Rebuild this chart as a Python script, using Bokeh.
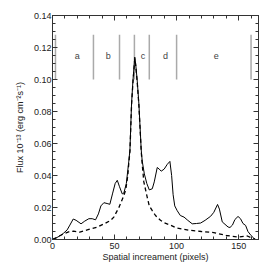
from bokeh.plotting import figure
from bokeh.models import LinearAxis, Range1d, FixedTicker, ColumnDataSource, NumeralTickFormatter
from bokeh.core.properties import value
from bokeh.embed import file_html
from bokeh.resources import INLINE

# observed flux (solid)
obs_x = [0.5, 3, 6.5, 9, 11.8, 14, 16.7, 19, 23, 26, 29.3, 32, 34.7, 37, 39, 41.4, 44, 46.2, 48.5, 50.5,
         52.2, 54, 56.2, 57.5, 59.5, 61.5, 62.4, 63.7, 64.8, 66.3, 67.0, 68.3, 69.6, 71.5, 72.3, 74, 76,
         78, 80.4, 82, 84.4, 86, 87.6, 90, 92.5, 94.6, 96, 97.2, 98.5, 100.5, 103, 106, 109, 112.6, 116,
         119.4, 123, 127.4, 130, 133, 134.5, 136.8, 139, 141.5, 143, 145, 147, 149.5, 151.5, 153.5, 155.6,
         157.5, 160, 162, 163.7]
obs_y = [0.0005, 0.001, 0.0025, 0.004, 0.006, 0.009, 0.0128, 0.012, 0.0098, 0.0115, 0.013, 0.013, 0.0123,
         0.016, 0.021, 0.023, 0.0225, 0.022, 0.029, 0.035, 0.037, 0.033, 0.0285, 0.029, 0.035, 0.049, 0.056,
         0.085, 0.099, 0.114, 0.110, 0.099, 0.085, 0.056, 0.049, 0.041, 0.035, 0.031, 0.0317, 0.036, 0.045,
         0.044, 0.0427, 0.044, 0.047, 0.0488, 0.040, 0.028, 0.021, 0.018, 0.015, 0.014, 0.012, 0.0098, 0.010,
         0.0103, 0.012, 0.0145, 0.017, 0.0219, 0.019, 0.011, 0.0095, 0.0078, 0.0075, 0.009, 0.0125, 0.0144,
         0.013, 0.010, 0.0088, 0.005, 0.0025, 0.001, 0.0]

# model flux (dashed)
mod_x = [0.5, 5, 9, 13, 17, 22, 28, 36, 42.7, 47, 49.4, 53.5, 57, 59, 60.7, 61.5, 62.4, 63.7, 64.8, 66.3,
         67.0, 68.3, 69.6, 71.5, 72.3, 73.6, 76.3, 78, 80.4, 83, 87, 90, 95, 100, 110, 120, 130, 140, 150,
         157, 163.5]
mod_y = [0.0, 0.002, 0.0036, 0.0048, 0.0052, 0.0046, 0.006, 0.0077, 0.0102, 0.012, 0.014, 0.020, 0.0265,
         0.031, 0.040, 0.048, 0.055, 0.084, 0.098, 0.113, 0.109, 0.098, 0.084, 0.055, 0.047, 0.036, 0.0265,
         0.021, 0.018, 0.015, 0.012, 0.0105, 0.009, 0.0072, 0.0058, 0.005, 0.0043, 0.0025, 0.0015, 0.0022, 0.0]

# region boundaries and labels
bounds = [2.4, 33, 54, 66, 78, 100, 160]
region_labels = ["a", "b", "c", "d", "e"]
region_label_x = [20, 45, 73, 91, 132]
region_label_y = 0.115
bound_y0, bound_y1 = 0.10, 0.128

y_ticks = [0.00, 0.02, 0.04, 0.06, 0.08, 0.10, 0.12, 0.14]
x_ticks = [0, 50, 100, 150]
x_minor = list(range(0, 170, 10))
y_minor = [round(i * 0.005, 3) for i in range(29)]

FONT = "Liberation Sans"

p = figure(width=265, height=265, output_backend="svg", toolbar_location=None,
           x_range=Range1d(0, 166), y_range=Range1d(0, 0.14),
           min_border_left=52, min_border_right=7, min_border_top=15, min_border_bottom=26)
p.background_fill_color = "white"
p.border_fill_color = "white"
p.outline_line_color = "#333333"
p.outline_line_width = 1
p.grid.visible = False

def style_axis(ax, labels=True):
    ax.major_tick_in = 5
    ax.major_tick_out = 0
    ax.minor_tick_in = 3
    ax.minor_tick_out = 0
    ax.axis_line_color = "#333333"
    ax.major_tick_line_color = "#333333"
    ax.minor_tick_line_color = "#333333"
    ax.major_label_text_font = FONT
    ax.major_label_text_font_size = "9px"
    ax.major_label_text_color = "#222222"
    ax.axis_label_text_font = FONT
    ax.axis_label_text_font_size = "9px"
    ax.axis_label_text_font_style = "normal"
    ax.axis_label_text_color = "#222222"
    if not labels:
        ax.major_label_text_font_size = "0px"
        ax.major_label_text_alpha = 0

p.xaxis.ticker = FixedTicker(ticks=x_ticks, minor_ticks=x_minor)
p.yaxis.ticker = FixedTicker(ticks=y_ticks, minor_ticks=y_minor)
p.xaxis.axis_label = "Spatial increament (pixels)"
p.yaxis.axis_label = "Flux 10\u207b\u00b9\u00b3 (erg cm\u207b\u00b2s\u207b\u00b9)"
p.yaxis.formatter = NumeralTickFormatter(format="0.00")
p.xaxis.major_label_standoff = 3
p.yaxis.major_label_standoff = 1
p.xaxis.axis_label_standoff = 0
p.yaxis.axis_label_standoff = 6
style_axis(p.xaxis[0])
style_axis(p.yaxis[0])

top = LinearAxis(ticker=FixedTicker(ticks=x_ticks, minor_ticks=x_minor))
style_axis(top, labels=False)
p.add_layout(top, "above")
right = LinearAxis(ticker=FixedTicker(ticks=y_ticks, minor_ticks=y_minor))
style_axis(right, labels=False)
p.add_layout(right, "right")

# region boundary lines
p.segment(x0=bounds, y0=[bound_y0] * len(bounds), x1=bounds, y1=[bound_y1] * len(bounds),
          line_color="#aaaaaa", line_width=1.5)
src = ColumnDataSource(dict(x=region_label_x, y=[region_label_y] * 5, t=region_labels))
p.text(x="x", y="y", text="t", source=src, text_font=value(FONT), text_font_size="9px",
       text_color="#444444", text_align="center", text_baseline="middle")

p.line(mod_x, mod_y, line_color="black", line_width=1.3, line_dash="4 3")
p.line(obs_x, obs_y, line_color="black", line_width=1)

open("out.html", "w").write(file_html(p, INLINE))
